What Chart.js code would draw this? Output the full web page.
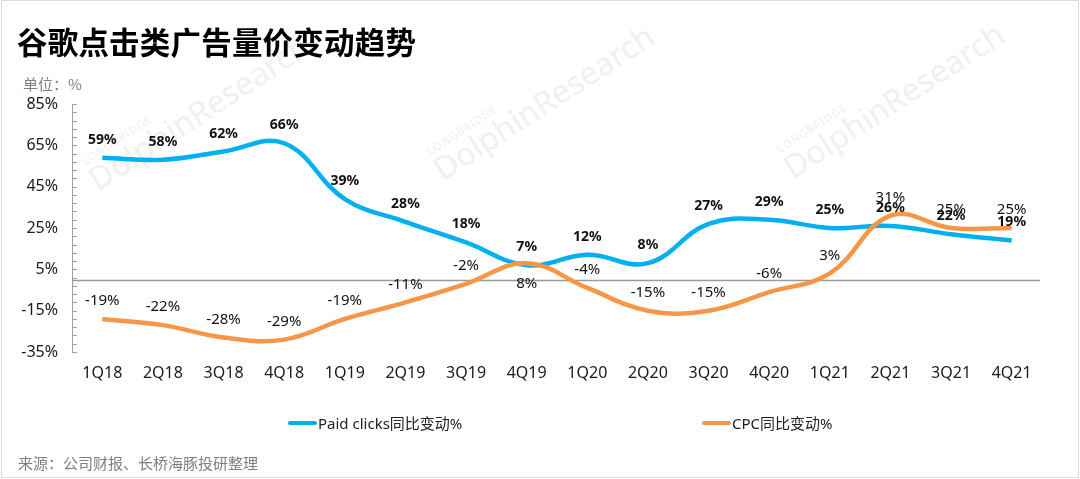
<!DOCTYPE html>
<html lang="zh">
<head>
<meta charset="UTF-8">
<title>谷歌点击类广告量价变动趋势</title>
<script src="https://cdn.jsdelivr.net/npm/chart.js"></script>
<style>
  html, body { margin: 0; padding: 0; background: #fff; }
  body { width: 1080px; height: 479px; position: relative; overflow: hidden;
         font-family: "Noto Sans", "Noto Sans CJK SC", sans-serif; }
  #frame { position: absolute; left: 1px; top: 0; width: 1076px; height: 476px; border: 1px solid #dcdcdc; }
  #chart-box { position: absolute; left: 0; top: 0; width: 1080px; height: 479px; }
  .title { position: absolute; left: 17px; top: 19px; font-size: 30.5px; font-weight: 700; color: #000;
           font-family: "Noto Sans CJK SC", sans-serif; letter-spacing: 0.2px; }
  .unit { position: absolute; left: 23px; top: 73px; font-size: 15px; color: #7f7f7f;
          font-family: "Noto Sans CJK SC", sans-serif; }
  .legend-item { position: absolute; top: 412px; font-size: 15px; color: #222; display: flex; align-items: center;
                 font-family: "Noto Sans", "Noto Sans CJK SC", sans-serif; }
  .legend-item i { display: inline-block; width: 29px; height: 4px; border-radius: 2px; margin-right: 1px; }
  .source { position: absolute; left: 18px; top: 452px; font-size: 15px; color: #7f7f7f;
            font-family: "Noto Sans CJK SC", sans-serif; }
  .wm { position: absolute; color: #f0f0f0; transform: rotate(-33deg); transform-origin: left bottom;
        font-family: "Noto Sans", sans-serif; white-space: nowrap; line-height: 1; }
  .wm small { display: block; font-size: 11px; letter-spacing: 1px; margin-left: 4px; }
  .wm span { font-size: 32px; }
</style>
</head>
<body>
<div class="wm" style="left:100px; top:152px;"><small>LONGBRIDGE</small><span>DolphinResearch</span></div>
<div class="wm" style="left:445px; top:142px;"><small>LONGBRIDGE</small><span>DolphinResearch</span></div>
<div class="wm" style="left:795px; top:140px;"><small>LONGBRIDGE</small><span>DolphinResearch</span></div>

<div id="chart-box"><canvas id="chart"></canvas></div>
<div id="frame"></div>

<div class="title">谷歌点击类广告量价变动趋势</div>
<div class="unit">单位：%</div>

<div class="legend-item" style="left:288px;"><i style="background:#00B0F0"></i>Paid clicks同比变动%</div>
<div class="legend-item" style="left:702px;"><i style="background:#F79646"></i>CPC同比变动%</div>

<div class="source">来源：公司财报、长桥海豚投研整理</div>

<script>
// chart data
const categories = ['1Q18', '2Q18', '3Q18', '4Q18', '1Q19', '2Q19', '3Q19', '4Q19',
                    '1Q20', '2Q20', '3Q20', '4Q20', '1Q21', '2Q21', '3Q21', '4Q21'];
const paidClicks = [59, 58, 62, 66, 39, 28, 18, 7, 12, 8, 27, 29, 25, 26, 22, 19];
const cpc = [-19, -22, -28, -29, -19, -11, -2, 8, -4, -15, -15, -6, 3, 31, 25, 25];
const yTickLabels = [-35, -15, 5, 25, 45, 65, 85];
const yMinorStep = 4;
// quarters where the CPC label sits under the line
const cpcLabelsBelow = ['4Q19'];

// zero line, axis minor ticks and value labels
const decorPlugin = {
    id: 'decor',
    beforeDatasetsDraw(chart) {
        const ctx = chart.ctx;
        const y = chart.scales.y;
        const area = chart.chartArea;
        ctx.save();
        ctx.strokeStyle = '#9a9a9a';
        ctx.lineWidth = 1.5;
        const y0 = Math.round(y.getPixelForValue(0)) + 0.5;
        ctx.beginPath();
        ctx.moveTo(area.left, y0);
        ctx.lineTo(area.right - 2, y0);
        ctx.stroke();
        // minor ticks on the inside of the y axis
        ctx.lineWidth = 1;
        ctx.strokeStyle = '#a0a0a0';
        for (let v = y.min; v <= y.max + 0.001; v += yMinorStep) {
            const py = Math.round(y.getPixelForValue(v)) + 0.5;
            ctx.beginPath();
            ctx.moveTo(area.left, py);
            ctx.lineTo(area.left + 5, py);
            ctx.stroke();
        }
        ctx.restore();
    },
    afterDatasetsDraw(chart) {
        const ctx = chart.ctx;
        ctx.save();
        ctx.textAlign = 'center';
        ctx.textBaseline = 'middle';
        chart.data.datasets.forEach((ds, di) => {
            const meta = chart.getDatasetMeta(di);
            ctx.font = ds.labelFont;
            ctx.fillStyle = '#111';
            meta.data.forEach((pt, i) => {
                const below = ds.labelsBelow && ds.labelsBelow.includes(categories[i]);
                const dy = below ? 21 : -18;
                ctx.fillText(ds.data[i] + '%', pt.x, pt.y + dy);
            });
        });
        ctx.restore();
    }
};

new Chart(document.getElementById('chart'), {
    type: 'line',
    data: {
        labels: categories,
        datasets: [
            {
                label: 'Paid clicks同比变动%',
                data: paidClicks,
                borderColor: '#00B0F0',
                borderWidth: 4.5,
                tension: 0.4,
                pointRadius: 0,
                order: 1,
                labelFont: 'bold 14px "Noto Sans", sans-serif'
            },
            {
                label: 'CPC同比变动%',
                data: cpc,
                borderColor: '#F79646',
                borderWidth: 4.5,
                tension: 0.4,
                pointRadius: 0,
                order: 0,
                labelsBelow: cpcLabelsBelow,
                labelFont: '15px "Noto Sans", sans-serif'
            }
        ]
    },
    options: {
        responsive: true,
        maintainAspectRatio: false,
        animation: false,
        layout: { padding: { top: 104, right: 38, bottom: 87, left: 0 } },
        plugins: { legend: { display: false }, tooltip: { enabled: false } },
        scales: {
            x: {
                offset: true,
                grid: { display: false, drawTicks: false },
                border: { display: false },
                ticks: { color: '#1a1a1a', font: { size: 16, family: '"Noto Sans", sans-serif' }, padding: 12, maxRotation: 0, autoSkip: false },
                afterFit: s => { s.height = 40; }
            },
            y: {
                min: -35,
                max: 85,
                grid: { display: false, drawTicks: false },
                border: { display: true, color: '#a0a0a0', width: 1 },
                afterBuildTicks: s => { s.ticks = yTickLabels.map(v => ({ value: v })); },
                ticks: {
                    color: '#1a1a1a',
                    font: { size: 16, family: '"Noto Sans", sans-serif' },
                    padding: 14,
                    callback: v => v + '%'
                },
                afterFit: s => { s.width = 72; }
            }
        }
    },
    plugins: [decorPlugin]
});
</script>
</body>
</html>
